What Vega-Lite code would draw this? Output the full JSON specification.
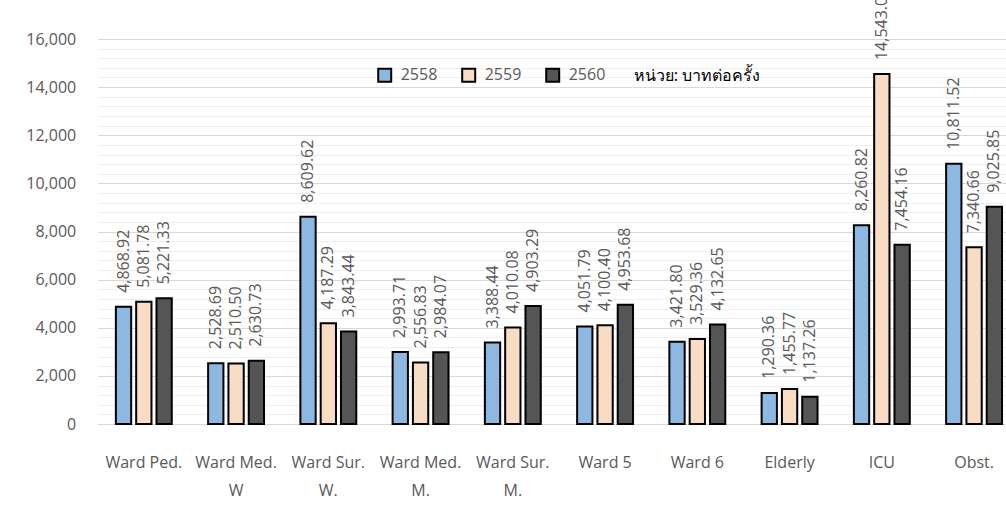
{
  "$schema": "https://vega.github.io/schema/vega-lite/v6.json",
  "autosize": {"type": "none"},
  "width": 908.3,
  "height": 385,
  "padding": {"left": 97.7, "top": 39, "right": 0, "bottom": 87},
  "background": "white",
  "config": {
    "view": {"stroke": null},
    "font": "Open Sans",
    "axis": {"labelFont": "Open Sans", "labelFontSize": 16, "labelColor": "#595959"}
  },
  "data": {
    "values": [
      {"ward": "Ward Ped.", "year": "2558", "cost": 4868.92},
      {"ward": "Ward Ped.", "year": "2559", "cost": 5081.78},
      {"ward": "Ward Ped.", "year": "2560", "cost": 5221.33},
      {"ward": "Ward Med.|W", "year": "2558", "cost": 2528.69},
      {"ward": "Ward Med.|W", "year": "2559", "cost": 2510.50},
      {"ward": "Ward Med.|W", "year": "2560", "cost": 2630.73},
      {"ward": "Ward Sur.|W.", "year": "2558", "cost": 8609.62},
      {"ward": "Ward Sur.|W.", "year": "2559", "cost": 4187.29},
      {"ward": "Ward Sur.|W.", "year": "2560", "cost": 3843.44},
      {"ward": "Ward Med.|M.", "year": "2558", "cost": 2993.71},
      {"ward": "Ward Med.|M.", "year": "2559", "cost": 2556.83},
      {"ward": "Ward Med.|M.", "year": "2560", "cost": 2984.07},
      {"ward": "Ward Sur.|M.", "year": "2558", "cost": 3388.44},
      {"ward": "Ward Sur.|M.", "year": "2559", "cost": 4010.08},
      {"ward": "Ward Sur.|M.", "year": "2560", "cost": 4903.29},
      {"ward": "Ward 5", "year": "2558", "cost": 4051.79},
      {"ward": "Ward 5", "year": "2559", "cost": 4100.40},
      {"ward": "Ward 5", "year": "2560", "cost": 4953.68},
      {"ward": "Ward 6", "year": "2558", "cost": 3421.80},
      {"ward": "Ward 6", "year": "2559", "cost": 3529.36},
      {"ward": "Ward 6", "year": "2560", "cost": 4132.65},
      {"ward": "Elderly", "year": "2558", "cost": 1290.36},
      {"ward": "Elderly", "year": "2559", "cost": 1455.77},
      {"ward": "Elderly", "year": "2560", "cost": 1137.26},
      {"ward": "ICU", "year": "2558", "cost": 8260.82},
      {"ward": "ICU", "year": "2559", "cost": 14543.01},
      {"ward": "ICU", "year": "2560", "cost": 7454.16},
      {"ward": "Obst.", "year": "2558", "cost": 10811.52},
      {"ward": "Obst.", "year": "2559", "cost": 7340.66},
      {"ward": "Obst.", "year": "2560", "cost": 9025.85}
    ]
  },
  "encoding": {
    "x": {
      "field": "ward",
      "type": "nominal",
      "sort": null,
      "scale": {"range": [0, 922.5], "paddingInner": 0.394, "paddingOuter": 0.197},
      "axis": {
        "title": null,
        "ticks": false,
        "grid": false,
        "domainColor": "#d9d9d9",
        "labelAngle": 0,
        "labelPadding": 30,
        "labelLineHeight": 28,
        "labelExpr": "split(datum.value, '|')"
      }
    },
    "xOffset": {
      "field": "year",
      "type": "nominal",
      "scale": {"paddingInner": 0.246, "paddingOuter": 0}
    },
    "y": {
      "field": "cost",
      "type": "quantitative",
      "scale": {"domain": [0, 16000], "nice": false},
      "axis": {
        "title": null,
        "domain": false,
        "ticks": false,
        "labelPadding": 22,
        "labelOverlap": false,
        "values": [0, 400, 800, 1200, 1600, 2000, 2400, 2800, 3200, 3600, 4000, 4400, 4800, 5200, 5600, 6000, 6400, 6800, 7200, 7600, 8000, 8400, 8800, 9200, 9600, 10000, 10400, 10800, 11200, 11600, 12000, 12400, 12800, 13200, 13600, 14000, 14400, 14800, 15200, 15600, 16000],
        "labelExpr": "datum.value % 2000 === 0 ? format(datum.value, ',') : ''",
        "gridColor": {"condition": {"test": "datum.value % 2000 === 0", "value": "#d9d9d9"}, "value": "#efefef"}
      }
    }
  },
  "layer": [
    {
      "mark": {"type": "bar", "stroke": "black", "strokeWidth": 2},
      "encoding": {
        "fill": {
          "field": "year",
          "type": "nominal",
          "scale": {"domain": ["2558", "2559", "2560"], "range": ["#8db8e2", "#f9dcc4", "#555555"]},
          "legend": {
            "orient": "none",
            "legendX": 279,
            "legendY": 28,
            "direction": "horizontal",
            "padding": 0,
            "title": "หน่วย: บาทต่อครั้ง",
            "titleOrient": "right",
            "titlePadding": 28,
            "titleFontSize": 16,
            "titleFontWeight": "normal",
            "titleColor": "black",
            "titleFont": "Noto Sans",
            "labelFontSize": 16,
            "labelColor": "#595959",
            "labelFont": "Open Sans",
            "labelOffset": 8,
            "columnPadding": 20,
            "symbolType": "square",
            "symbolSize": 169,
            "symbolStrokeColor": "black",
            "symbolStrokeWidth": 2,
            "symbolOpacity": 1
          }
        }
      }
    },
    {
      "mark": {
        "type": "text",
        "angle": 270,
        "align": "left",
        "baseline": "middle",
        "dx": 14,
        "fontSize": 16,
        "font": "Open Sans",
        "color": "#595959"
      },
      "encoding": {
        "text": {"field": "cost", "type": "quantitative", "format": ",.2f"}
      }
    }
  ]
}
